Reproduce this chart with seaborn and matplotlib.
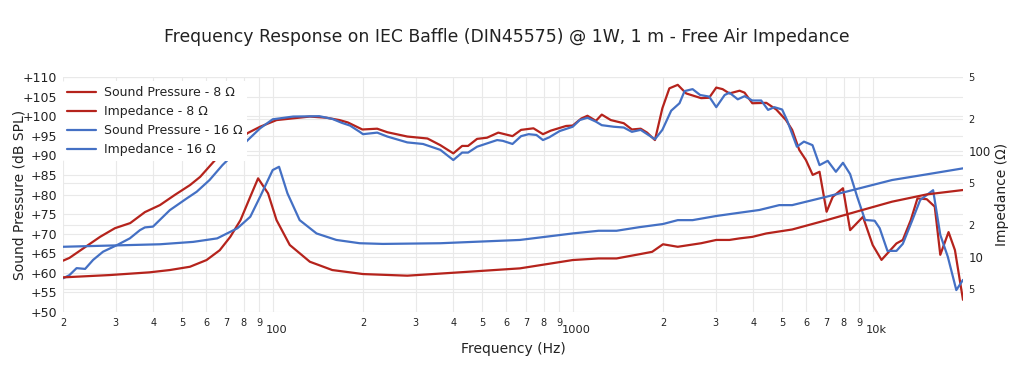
import matplotlib.pyplot as plt
import matplotlib.transforms as mtrans
import seaborn as sns

# Sound pressure, 8 ohm version (Hz, dB SPL)
spl8_hz = [20, 21, 26.6, 29.8, 33.5, 37.5, 42.1, 47.2, 53, 57.3, 64.3, 82.6, 90.8, 103, 133, 151,
           167, 178, 199, 223, 241, 281, 328, 362, 400, 428, 448, 480, 518, 565, 630, 673, 740,
           796, 845, 951, 1000, 1068, 1120, 1195, 1250, 1340, 1480, 1575, 1685, 1770, 1880, 1990,
           2100, 2240, 2390, 2680, 2850, 3010, 3160, 3330, 3600, 3740, 3970, 4420, 4770, 5140,
           5390, 5690, 5990, 6310, 6650, 7020, 7360, 7960, 8410, 9280, 10000, 10700, 12000,
           12600, 13400, 14100, 15140, 16100, 16800, 17900, 18800, 20000]
spl8_db = [63.1, 63.8, 69.2, 71.4, 72.7, 75.5, 77.3, 79.9, 82.4, 84.5, 88.8, 95.7, 97.3, 99.0, 99.9, 99.6,
           99.0, 98.4, 96.6, 96.8, 95.9, 94.8, 94.3, 92.6, 90.5, 92.4, 92.4, 94.2, 94.5, 95.8, 94.9, 96.5, 96.9,
           95.4, 96.3, 97.5, 97.6, 99.4, 100.1, 98.8, 100.4, 99.0, 98.2, 96.6, 96.8, 95.8, 93.9, 102.0,
           107.1, 108.0, 105.8, 104.6, 104.7, 107.3, 106.9, 105.8, 106.5, 106.0, 103.3, 103.4, 101.7, 99.0,
           96.5, 91.4, 88.8, 85.0, 85.8, 75.6, 79.4, 81.6, 70.9, 74.3, 67.1, 63.3, 67.5,
           68.4, 73.5, 79.0, 78.8, 76.9, 64.6, 70.4, 65.8, 53.1]

# Sound pressure, 16 ohm version
spl16_hz = [20, 21, 22.2, 23.7, 25.2, 27.2, 30.3, 33.4, 36.1, 37.5, 39.9, 45.4, 51.7, 55.8, 61.6, 68,
            82.6, 90.8, 100, 117, 143, 158, 170, 181, 195, 200, 223, 241, 281, 317, 362, 400, 428,
            448, 480, 560, 585, 630, 673, 713, 757, 796, 835, 905, 1000, 1055, 1120, 1195, 1250,
            1370, 1480, 1575, 1685, 1880, 1990, 2130, 2270, 2360, 2510, 2660, 2850, 3010, 3210,
            3330, 3550, 3740, 3970, 4250, 4480, 4700, 4990, 5180, 5590, 5900, 6300, 6650, 7080,
            7540, 7960, 8410, 8880, 9430, 10150, 10550, 11200, 12000, 12600, 13500, 14400, 15900,
            16800, 17800, 19000, 20000]
spl16_db = [58.6, 59.4, 61.2, 61.0, 63.3, 65.4, 67.1, 68.8, 70.9, 71.6, 71.8, 76.0, 79.0, 80.7, 83.7, 87.5,
            93.9, 96.9, 99.2, 99.9, 100.0, 99.3, 98.3, 97.6, 96.0, 95.4, 95.8, 94.8, 93.3, 92.9, 91.4, 88.8, 90.7,
            90.7, 92.2, 93.9, 93.7, 92.9, 94.9, 95.4, 95.2, 93.9, 94.6, 96.2, 97.3, 99.0, 99.6, 98.6, 97.7,
            97.3, 97.1, 96.0, 96.5, 94.1, 96.5, 101.4, 103.3, 106.4, 106.9, 105.4, 105.0, 102.3, 105.4,
            106.0, 104.3, 105.1, 104.0, 104.0, 101.6, 102.3, 101.7, 99.0, 92.2, 93.5, 92.6, 87.5, 88.6,
            85.8, 88.1, 85.2, 79.4, 73.5, 73.3, 71.4, 65.6, 65.6, 67.4, 73.1, 78.6, 81.1,
            69.7, 64.1, 55.6, 58.2]

# Free air impedance (Hz, ohm)
imp8_hz = [20, 28.6, 38.8, 45.4, 53, 60.2, 66.6, 72.2, 78.1, 84.2, 89.4, 96.5, 103, 114, 133, 158,
           200, 281, 400, 667, 1000, 1220, 1400, 1660, 1840, 2000, 2240, 2680, 3010, 3330, 3600,
           3970, 4420, 5390, 7020, 9030, 11600, 15140, 20000]
imp8_ohm = [6.43, 6.76, 7.17, 7.54, 8.1, 9.37, 11.6, 15.5, 22.3, 37.1, 55.3, 39.9, 22.3, 13.0, 9.03, 7.54,
            6.91, 6.67, 7.11, 7.82, 9.37, 9.7, 9.7, 10.6, 11.2, 13.2, 12.5, 13.5, 14.5, 14.5, 15.0,
            15.5, 16.7, 18.2, 22.3, 27.3, 33.3, 39.0, 42.9]

imp16_hz = [20, 42.1, 54.3, 65.3, 76.3, 84.2, 90.8, 100, 105, 112, 123, 140, 163, 195, 233, 362,
            667, 1000, 1220, 1400, 1660, 2000, 2240, 2510, 3010, 3600, 4190, 4880, 5390, 7020,
            9030, 11600, 15140, 20000]
imp16_ohm = [12.5, 13.2, 13.9, 15.0, 18.7, 24.0, 37.1, 66.2, 71.1, 39.9, 22.3, 16.7, 14.5, 13.5, 13.3, 13.5,
             14.5, 16.7, 17.7, 17.7, 19.1, 20.5, 22.3, 22.3, 24.4, 26.2, 27.8, 30.9, 30.9, 37.1,
             44.5, 53.3, 60.3, 68.7]

# tick labels
x_major = [100, 1000, 10000]
x_major_lbl = ['100', '1000', '10k']
x_minor = [20, 30, 40, 50, 60, 70, 80, 90, 200, 300, 400, 500, 600, 700, 800, 900,
           2000, 3000, 4000, 5000, 6000, 7000, 8000, 9000]
x_minor_lbl = ['2', '3', '4', '5', '6', '7', '8', '9'] * 3
db_ticks = list(range(50, 111, 5))
db_lbl = ['+%d' % v for v in db_ticks]
z_major = [10, 100]
z_major_lbl = ['10', '100']
z_minor = [5, 20, 50, 200, 500]
z_minor_lbl = ['5', '2', '5', '2', '5']

RED = '#B5231C'
BLUE = '#4470C4'
GRID = '#e9e9e9'
TXT = '#222222'

sns.set_style('white')
plt.rcParams['font.family'] = ['DejaVu Sans']

fig = plt.figure(figsize=(10.13, 3.7), dpi=100)
ax = fig.add_axes([63 / 1013, 58 / 370, 900 / 1013, 235 / 370])
axz = ax.twinx()

# sound pressure on the left axis, impedance on the right one
sns.lineplot(x=spl8_hz, y=spl8_db, ax=ax, color=RED, lw=1.6, errorbar=None, label='Sound Pressure - 8 Ω')
sns.lineplot(x=spl16_hz, y=spl16_db, ax=ax, color=BLUE, lw=1.6, errorbar=None, label='Sound Pressure - 16 Ω')
sns.lineplot(x=imp8_hz, y=imp8_ohm, ax=axz, color=RED, lw=1.6, errorbar=None, label='Impedance - 8 Ω')
sns.lineplot(x=imp16_hz, y=imp16_ohm, ax=axz, color=BLUE, lw=1.6, errorbar=None, label='Impedance - 16 Ω')

ax.set_xscale('log')
ax.set_xlim(20, 20000)
ax.set_ylim(50, 110)
axz.set_yscale('log')
axz.set_ylim(3.03, 500)

ax.set_xticks(x_major, labels=x_major_lbl)
ax.set_xticks(x_minor, labels=x_minor_lbl, minor=True)
ax.tick_params(axis='x', which='major', length=0, pad=9.5, labelsize=8.2, colors=TXT)
ax.tick_params(axis='x', which='minor', length=0, pad=4.5, labelsize=7, colors=TXT)
# major frequency labels sit a little right of their tick
shift = mtrans.ScaledTranslation(3.5 / 100, 0, fig.dpi_scale_trans)
for lab in ax.get_xticklabels():
    lab.set_transform(lab.get_transform() + shift)
ax.set_yticks(db_ticks, labels=db_lbl)
ax.tick_params(axis='y', length=0, pad=4, labelsize=9, colors=TXT)

axz.set_yticks(z_major, labels=z_major_lbl)
axz.set_yticks(z_minor, labels=z_minor_lbl, minor=True)
axz.tick_params(axis='y', which='major', length=0, pad=4, labelsize=8.5, colors=TXT)
axz.tick_params(axis='y', which='minor', length=0, pad=4, labelsize=7, colors=TXT)

# grid lines all live on the bottom axes so they stay under every curve
ax.grid(True, which='both', axis='x', color=GRID, lw=0.8)
ax.grid(True, which='major', axis='y', color=GRID, lw=0.8)
ax.set_axisbelow(True)
zt = mtrans.blended_transform_factory(ax.transAxes, axz.transData)
ax.hlines(z_major + z_minor, 0, 1, transform=zt, color=GRID, lw=0.8, zorder=0.5)
ax.set_ylim(50, 110)

for a in (ax, axz):
    for s in a.spines.values():
        s.set_visible(False)

ax.set_xlabel('Frequency (Hz)', fontsize=10, color=TXT)
ax.xaxis.set_label_coords(0.5, -0.128)
ax.set_ylabel('Sound Pressure (dB SPL)', fontsize=10, color=TXT)
ax.yaxis.set_label_coords(-0.041, 0.5)
axz.set_ylabel('Impedance (Ω)', fontsize=10, color=TXT)
axz.yaxis.set_label_coords(1.036, 0.5)

fig.text(0.5, 1 - 37 / 370, 'Frequency Response on IEC Baffle (DIN45575) @ 1W, 1 m - Free Air Impedance',
         ha='center', va='center', fontsize=12.4, color=TXT)

h1, l1 = ax.get_legend_handles_labels()
h2, l2 = axz.get_legend_handles_labels()
ax.get_legend().remove()
handles = [h1[0], h2[0], h1[1], h2[1]]
labels = [l1[0], l2[0], l1[1], l2[1]]
leg = axz.legend(handles, labels, loc='upper left', bbox_to_anchor=(-2 / 900, 1 - 3 / 235), borderaxespad=0.1,
                 fontsize=9, frameon=True, facecolor='white', edgecolor='none', framealpha=1,
                 handlelength=2.3, handletextpad=0.6, labelspacing=0.48, borderpad=0.4)
for t in leg.get_texts():
    t.set_color(TXT)

fig.savefig('out.png', dpi=100)
